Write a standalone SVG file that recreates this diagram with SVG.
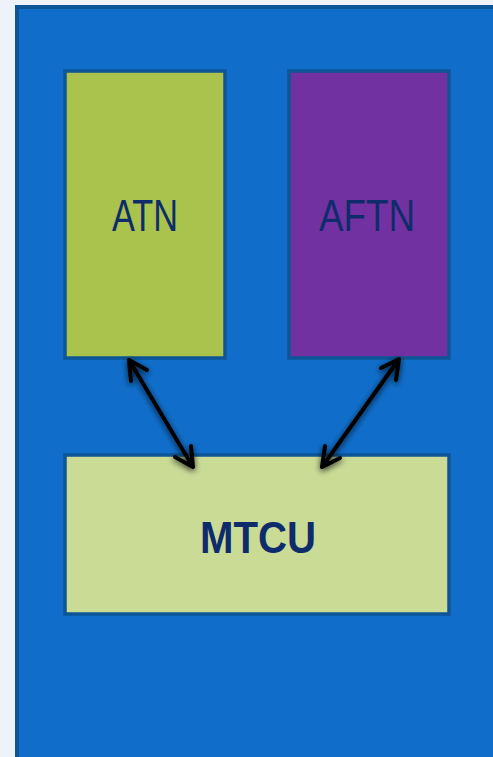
<svg xmlns="http://www.w3.org/2000/svg" width="493" height="757" viewBox="0 0 493 757">
<defs>
<style>
.box{stroke:#0D5696;stroke-width:3.5}
.lbl{font-family:"Liberation Sans",Arial,sans-serif;font-size:44px;fill:#0E2C6B;text-anchor:middle}
.arr{stroke:#000;stroke-width:4;fill:none;stroke-linecap:round;stroke-linejoin:round;filter:url(#sh)}
</style>
<filter id="sh" x="-30%" y="-30%" width="160%" height="160%">
<feGaussianBlur in="SourceAlpha" stdDeviation="3" result="b"/>
<feOffset in="b" dx="0" dy="2" result="o"/>
<feComponentTransfer in="o" result="o2"><feFuncA type="linear" slope="0.8"/></feComponentTransfer>
<feMerge><feMergeNode in="o2"/><feMergeNode in="SourceGraphic"/></feMerge>
</filter>
</defs>
<rect width="493" height="757" fill="#EEF2F9"/>
<rect x="17" y="7" width="490" height="760" fill="#106ECA" stroke="#0D5696" stroke-width="4"/>
<g id="ATN">
<rect class="box" x="65" y="71" width="160" height="287" fill="#A9C34C"/>
<text class="lbl" x="145" y="231" textLength="66" lengthAdjust="spacingAndGlyphs">ATN</text>
</g>
<g id="AFTN">
<rect class="box" x="289" y="71" width="160" height="287" fill="#7231A0"/>
<text class="lbl" x="367" y="231" textLength="96" lengthAdjust="spacingAndGlyphs">AFTN</text>
</g>
<g id="MTCU">
<rect class="box" x="65" y="455" width="384" height="159" fill="#CADB96"/>
<text class="lbl" x="258" y="553" font-weight="bold" textLength="116" lengthAdjust="spacingAndGlyphs">MTCU</text>
</g>
<g id="connectors">
<path class="arr" d="M129,360 L193,467 M129,360 L131,381 M129,360 L147,370 M193,467 L191,446 M193,467 L175,457"/>
<path class="arr" d="M399,359 L322,467 M399,359 L381,368 M399,359 L396,380 M322,467 L340,458 M322,467 L325,446"/>
</g>
</svg>
